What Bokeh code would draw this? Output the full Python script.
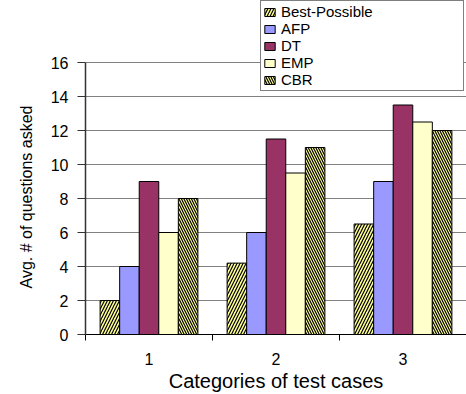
from bokeh.plotting import figure
from bokeh.models import Range1d, FixedTicker, Legend, LegendItem, ColumnDataSource, Title
from bokeh.embed import file_html
from bokeh.resources import INLINE
import numpy as np

categories = ["1", "2", "3"]
series = ["Best-Possible", "AFP", "DT", "EMP", "CBR"]
best_possible = [2, 4.2, 6.5]
afp = [4, 6, 9]
dt = [9, 11.5, 13.5]
emp = [6, 9.5, 12.5]
cbr = [8, 11, 12]
y_ticks = [0, 2, 4, 6, 8, 10, 12, 14, 16]

values = [best_possible, afp, dt, emp, cbr]
colors = ["#FFFF99", "#9999FF", "#993366", "#FFFFCC", "#FFFF99"]
hatches = ["/", " ", " ", " ", "\\"]
hatch_scales = [6, 12, 12, 12, 5]

FONT = "Liberation Sans"

# frame spans full height above the x axis; the value axis occupies the lower part
frame_h = 334
axis_top_px = 62
y_end = y_ticks[-1] * frame_h / (frame_h - axis_top_px)

p = figure(width=466, height=394, output_backend="svg", toolbar_location=None,
           x_range=Range1d(0, 3), y_range=Range1d(0, y_end),
           min_border_left=85, min_border_right=0, min_border_top=0, min_border_bottom=60)
p.outline_line_color = None
p.background_fill_color = "white"

centers = np.arange(len(categories)) + 0.5
bar_w = 0.154
n = len(series)
items = []
for i, (name, vals) in enumerate(zip(series, values)):
    off = (i - (n - 1) / 2) * bar_w
    src = ColumnDataSource(dict(x=centers + off, top=vals))
    kw = {}
    if hatches[i].strip():
        kw = dict(hatch_pattern=hatches[i], hatch_color="black", hatch_scale=hatch_scales[i], hatch_weight=1.2)
    r = p.vbar(x="x", top="top", bottom=0, width=bar_w, source=src,
               fill_color=colors[i], line_color="black", line_width=1, **kw)
    items.append(LegendItem(label=name, renderers=[r]))

# axes
p.xaxis.ticker = FixedTicker(ticks=list(centers), minor_ticks=[0, 1, 2, 3])
p.xaxis.major_label_overrides = {float(c): lab for c, lab in zip(centers, categories)}
p.xaxis.major_tick_out = 0
p.xaxis.major_tick_in = 0
p.xaxis.minor_tick_out = 6
p.xaxis.minor_tick_in = 0
p.xaxis.minor_tick_line_color = "black"
p.xaxis.axis_line_color = "black"
p.xaxis.major_label_text_font = FONT
p.xaxis.major_label_text_font_size = "16px"
p.xaxis.major_label_text_color = "black"
p.xaxis.major_label_standoff = 12
p.xaxis.axis_label = "Categories of test cases"
p.xaxis.axis_label_text_font = FONT
p.xaxis.axis_label_text_font_size = "20px"
p.xaxis.axis_label_text_font_style = "normal"
p.xaxis.axis_label_text_color = "black"
p.xaxis.axis_label_standoff = 2

p.yaxis.ticker = FixedTicker(ticks=y_ticks)
p.yaxis.bounds = (y_ticks[0], y_ticks[-1])
p.yaxis.major_tick_out = 8
p.yaxis.major_tick_in = 0
p.yaxis.minor_tick_line_color = None
p.yaxis.axis_line_color = "#333333"
p.yaxis.axis_line_width = 1.5
p.yaxis.major_tick_line_color = "#333333"
p.yaxis.major_label_text_font = FONT
p.yaxis.major_label_text_font_size = "16px"
p.yaxis.major_label_text_color = "black"
p.yaxis.major_label_standoff = 9

ylab = Title(text="Avg. # of questions asked", align="left", offset=46,
             text_font=FONT, text_font_size="16px", text_font_style="normal",
             text_color="black", standoff=26)
p.add_layout(ylab, "left")

p.xgrid.grid_line_color = None
p.ygrid.ticker = FixedTicker(ticks=y_ticks)
p.ygrid.grid_line_color = "#808080"
p.ygrid.grid_line_width = 1

legend = Legend(items=items, location=(175, 243))
legend.label_text_font = FONT
legend.label_text_font_size = "15px"
legend.label_text_color = "black"
legend.label_height = 15
legend.glyph_height = 10
legend.glyph_width = 13
legend.spacing = 0
legend.padding = 2
legend.margin = 0
legend.label_standoff = 5
legend.label_width = 180
legend.border_line_color = "black"
legend.border_line_width = 1
legend.background_fill_color = "white"
legend.background_fill_alpha = 1
p.add_layout(legend, "center")

open("out.html", "w").write(file_html(p, INLINE))
